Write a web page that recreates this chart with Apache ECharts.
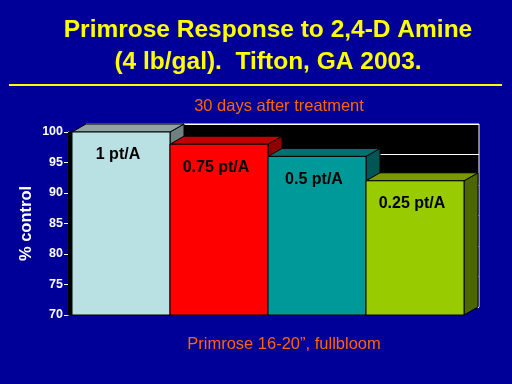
<!DOCTYPE html>
<html><head><meta charset="utf-8">
<script src="https://cdn.jsdelivr.net/npm/echarts@6/dist/echarts.min.js"></script>
<style>html,body{margin:0;padding:0;background:#000099;}#c{width:512px;height:384px;}</style>
</head><body><div id="c"></div>
<script>
const categories = ['1 pt/A', '0.75 pt/A', '0.5 pt/A', '0.25 pt/A'];
const values = [100, 98, 96, 92];
const yTicks = [70, 75, 80, 85, 90, 95, 100];
const frontColors = ['#B9E0E3', '#FF0000', '#009999', '#99CC00'];
const topColors = ['#8FA3A3', '#C00000', '#007070', '#7A9900'];
const sideColors = ['#6E8080', '#900000', '#005555', '#4D6600'];

const yMin = yTicks[0], yMax = yTicks[yTicks.length - 1];
const DX = 14, DY = -8;
const chart = echarts.init(document.getElementById('c'));
chart.setOption({
  backgroundColor: '#000099',
  animation: false,
  title: [
    {text: 'Primrose Response to 2,4-D Amine\n(4 lb/gal).  Tifton, GA 2003.', left: 263, top: 9, textAlign: 'center',
     textStyle: {color: '#FFFF00', fontFamily: 'Arial', fontWeight: 'bold', fontSize: 24.5, lineHeight: 32,
       textShadowColor: '#333300', textShadowOffsetX: 1, textShadowOffsetY: 1, textShadowBlur: 0}},
    {text: '30 days after treatment', left: 274, top: 93, textAlign: 'center',
     textStyle: {color: '#FF6600', fontFamily: 'Arial', fontWeight: 'normal', fontSize: 16.5}},
    {text: 'Primrose 16-20\u201D, fullbloom', left: 279, top: 331, textAlign: 'center',
     textStyle: {color: '#FF6600', fontFamily: 'Arial', fontWeight: 'normal', fontSize: 16.5}}
  ],
  graphic: [
    {type: 'line', shape: {x1: 9, y1: 85, x2: 502, y2: 85}, style: {stroke: '#FFFF00', lineWidth: 2}},
    {type: 'rect', shape: {x: 68, y: 132, width: 4, height: 183}, style: {fill: '#000'}, z: 1}
  ],
  grid: [
    {left: 86, right: 33, top: 124, bottom: 77, show: true, backgroundColor: '#000', borderColor: '#fff', borderWidth: 1},
    {left: 72, right: 48, top: 132, bottom: 69}
  ],
  xAxis: [
    {type: 'category', gridIndex: 0, data: categories, show: false},
    {type: 'category', gridIndex: 1, data: categories, axisLine: {show: false}, axisTick: {show: false}, axisLabel: {show: false}}
  ],
  yAxis: [
    {type: 'value', gridIndex: 0, min: yMin, max: yMax, interval: 5, axisLabel: {show: false}, axisLine: {show: false}, axisTick: {show: false},
     splitLine: {show: true, lineStyle: {color: '#fff', width: 1}}},
    {type: 'value', gridIndex: 1, min: yMin, max: yMax, interval: 5, offset: 4,
     axisLine: {show: true, lineStyle: {color: '#fff', width: 1}},
     axisTick: {show: true, length: 4, lineStyle: {color: '#fff'}},
     axisLabel: {color: '#fff', fontFamily: 'Arial', fontWeight: 'bold', fontSize: 12.5, margin: 5},
     splitLine: {show: false},
     name: '% control', nameLocation: 'middle', nameRotate: 90, nameGap: 33, nameMoveOverlap: false,
     nameTextStyle: {color: '#fff', fontFamily: 'Arial', fontWeight: 'bold', fontSize: 16.5}}
  ],
  series: [{
    type: 'custom', xAxisIndex: 1, yAxisIndex: 1, z: 3,
    data: values.map((v, i) => [i, v]),
    renderItem: function (params, api) {
      const i = api.value(0), v = api.value(1);
      const top = api.coord([i, v]);
      const base = api.coord([i, yMin]);
      const w = api.size([1, 0])[0];
      const x0 = top[0] - w / 2, x1 = top[0] + w / 2;
      const yt = top[1], yb = base[1];
      return {type: 'group', children: [
        {type: 'polygon', shape: {points: [[x1, yt], [x1 + DX, yt + DY], [x1 + DX, yb + DY], [x1, yb]]},
         style: {fill: sideColors[i], stroke: '#000', lineWidth: 1}},
        {type: 'polygon', shape: {points: [[x0, yt], [x0 + DX, yt + DY], [x1 + DX, yt + DY], [x1, yt]]},
         style: {fill: topColors[i], stroke: '#000', lineWidth: 1}},
        {type: 'rect', shape: {x: x0, y: yt, width: w, height: yb - yt},
         style: {fill: frontColors[i], stroke: '#000', lineWidth: 1}},
        {type: 'text', style: {text: categories[i], x: (x0 + x1) / 2 - 3, y: yt + 23, align: 'center', verticalAlign: 'middle',
         fill: '#000', font: 'bold 16px Arial'}}
      ]};
    }
  }]
});
</script></body></html>
